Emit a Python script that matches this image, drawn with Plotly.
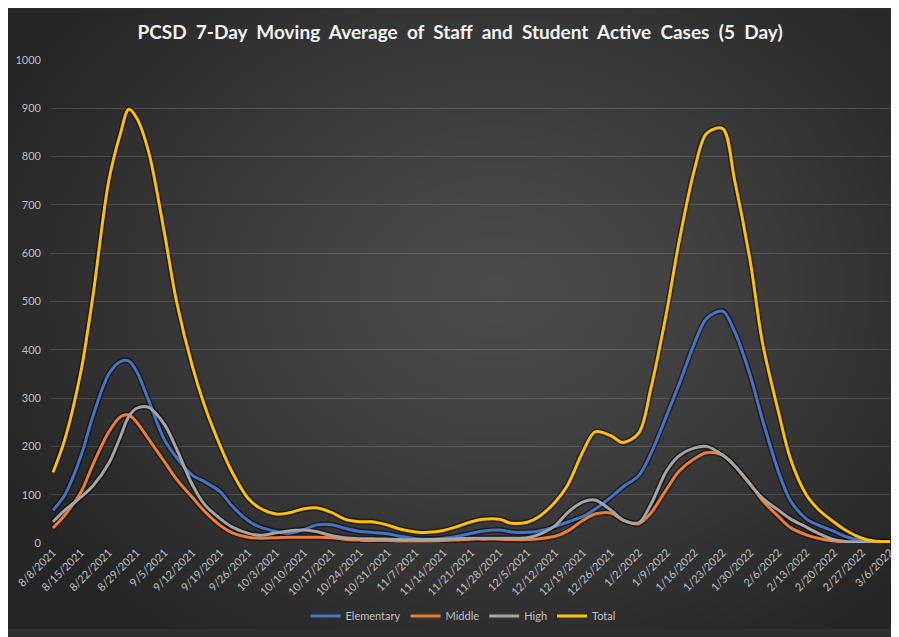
import base64
import struct
import zlib
import numpy as np
import plotly.graph_objects as go

# ---------------- data ----------------
dates = [
    "2021-08-08", "2021-08-11", "2021-08-15", "2021-08-18", "2021-08-22", "2021-08-25", "2021-08-27",
    "2021-08-29", "2021-09-01", "2021-09-05", "2021-09-08", "2021-09-12", "2021-09-15", "2021-09-19",
    "2021-09-22", "2021-09-26", "2021-09-29", "2021-10-03", "2021-10-06", "2021-10-10", "2021-10-13",
    "2021-10-17", "2021-10-20", "2021-10-24", "2021-10-27", "2021-10-31", "2021-11-03", "2021-11-07",
    "2021-11-10", "2021-11-14", "2021-11-17", "2021-11-21", "2021-11-24", "2021-11-28", "2021-12-01",
    "2021-12-05", "2021-12-08", "2021-12-12", "2021-12-15", "2021-12-19", "2021-12-22", "2021-12-26",
    "2021-12-29", "2022-01-02", "2022-01-05", "2022-01-09", "2022-01-12", "2022-01-16", "2022-01-19",
    "2022-01-23", "2022-01-26", "2022-01-30", "2022-02-02", "2022-02-06", "2022-02-09", "2022-02-13",
    "2022-02-16", "2022-02-20", "2022-02-23", "2022-02-27", "2022-03-02", "2022-03-06",
]

elementary = [68, 100, 180, 262, 350, 376, 377, 355, 295, 213, 177, 140, 127, 106, 76, 46, 33, 24, 20, 28,
              37, 38, 31, 24, 22, 19, 14, 9, 8, 10, 13, 20, 25, 27, 23, 22, 25, 34, 43, 55,
              70, 95, 116, 140, 185, 265, 327, 415, 465, 480, 438, 345, 255, 148, 88, 50, 37, 24, 13, 5,
              3, 2]
middle = [31, 58, 105, 162, 230, 262, 265, 250, 215, 168, 132, 94, 66, 36, 21, 12, 10, 11, 12, 12,
          12, 11, 8, 6, 5, 5, 4, 4, 4, 5, 6, 8, 8, 8, 7, 7, 9, 14, 24, 47,
          60, 62, 47, 40, 62, 112, 148, 175, 187, 182, 160, 122, 88, 55, 32, 17, 10, 4, 2, 1,
          1, 1]
high = [44, 68, 95, 118, 165, 222, 262, 279, 281, 245, 195, 120, 80, 50, 33, 20, 16, 21, 25, 27,
        24, 15, 11, 9, 9, 8, 7, 7, 7, 8, 9, 10, 10, 10, 10, 11, 18, 36, 62, 85,
        89, 68, 48, 42, 80, 150, 180, 197, 200, 182, 160, 120, 93, 68, 50, 33, 20, 7, 3, 2,
        2, 2]
total = [146, 215, 355, 510, 750, 850, 898, 880, 810, 640, 500, 365, 285, 200, 146, 92, 72, 60, 62, 71,
         73, 63, 50, 44, 44, 37, 29, 23, 22, 26, 33, 44, 49, 49, 41, 43, 55, 85, 118, 190,
         230, 222, 208, 228, 320, 480, 620, 775, 848, 858, 752, 580, 415, 272, 175, 100, 70, 43, 26, 10,
         4, 3]

tick_dates = [
    "2021-08-08", "2021-08-15", "2021-08-22", "2021-08-29", "2021-09-05", "2021-09-12", "2021-09-19",
    "2021-09-26", "2021-10-03", "2021-10-10", "2021-10-17", "2021-10-24", "2021-10-31", "2021-11-07",
    "2021-11-14", "2021-11-21", "2021-11-28", "2021-12-05", "2021-12-12", "2021-12-19", "2021-12-26",
    "2022-01-02", "2022-01-09", "2022-01-16", "2022-01-23", "2022-01-30", "2022-02-06", "2022-02-13",
    "2022-02-20", "2022-02-27", "2022-03-06",
]
tick_labels = [
    "8/8/2021", "8/15/2021", "8/22/2021", "8/29/2021", "9/5/2021", "9/12/2021", "9/19/2021",
    "9/26/2021", "10/3/2021", "10/10/2021", "10/17/2021", "10/24/2021", "10/31/2021", "11/7/2021",
    "11/14/2021", "11/21/2021", "11/28/2021", "12/5/2021", "12/12/2021", "12/19/2021", "12/26/2021",
    "1/2/2022", "1/9/2022", "1/16/2022", "1/23/2022", "1/30/2022", "2/6/2022", "2/13/2022",
    "2/20/2022", "2/27/2022", "3/6/2022",
]
y_ticks = [0, 100, 200, 300, 400, 500, 600, 700, 800, 900, 1000]

series_names = ["Elementary", "Middle", "High", "Total"]
series_values = [elementary, middle, high, total]
series_colors = ["#4472C4", "#ED7D31", "#A5A5A5", "#FFC000"]

title_text = "PCSD 7-Day Moving Average of Staff and Student Active Cases (5 Day)"

# ---------------- geometry (figure pixels; page adds an 8px body margin) ----------------
OFF = 8
FW, FH = 899 - OFF, 637 - OFF
PL, PR, PT, PB = 50 - OFF, 892 - OFF, 60 - OFF, 550 - OFF
pw, ph = PR - PL, PB - PT


def make_png(arr):
    h, w, _ = arr.shape
    raw = b"".join(b"\x00" + arr[i].tobytes() for i in range(h))

    def chunk(tag, data):
        c = struct.pack(">I", len(data)) + tag + data
        return c + struct.pack(">I", zlib.crc32(tag + data) & 0xFFFFFFFF)

    return (b"\x89PNG\r\n\x1a\n"
            + chunk(b"IHDR", struct.pack(">IIBBBBB", w, h, 8, 2, 0, 0, 0))
            + chunk(b"IDAT", zlib.compress(raw, 9))
            + chunk(b"IEND", b""))


# radial gradient background
gw, gh = 223, 157
yy, xx = np.mgrid[0:gh, 0:gw]
u = xx / (gw - 1)
v = yy / (gh - 1)
r = np.sqrt(((u - 0.55) / 0.62) ** 2 + ((v - 0.45) / 0.70) ** 2)
r = np.clip(r, 0, 1)
c_center, c_edge = 74.0, 37.0
val = c_center + (c_edge - c_center) * r ** 1.3
img = np.repeat(val[:, :, None], 3, axis=2).round().astype(np.uint8)
uri = "data:image/png;base64," + base64.b64encode(make_png(img)).decode()

fig = go.Figure()

# subtle shadows under lines
for vals in series_values:
    fig.add_trace(go.Scatter(
        x=dates, y=vals, mode="lines", showlegend=False, hoverinfo="skip",
        line=dict(color="rgba(0,0,0,0.45)", width=6, shape="spline", smoothing=0.9),
    ))

for name, vals, col in zip(series_names, series_values, series_colors):
    fig.add_trace(go.Scatter(
        x=dates, y=vals, mode="lines", name=name,
        line=dict(color=col, width=3, shape="spline", smoothing=0.9),
    ))

spaced_title = title_text.replace(" ", "\u00a0 ")

fig.update_layout(
    width=FW, height=FH, autosize=False,
    margin=dict(l=PL, r=FW - PR, t=PT, b=FH - PB, pad=0),
    paper_bgcolor="#2f2f2f",
    plot_bgcolor="rgba(0,0,0,0)",
    font=dict(family="Lato, Open Sans, sans-serif", color="#bfbfbf", size=11),
    title=dict(
        text="<b>" + spaced_title + "</b>",
        x=(460 - OFF) / FW, xref="container", xanchor="center",
        y=1 - (32 - OFF) / FH, yref="container", yanchor="middle",
        font=dict(family="Lato, Open Sans, sans-serif", size=19, color="#f2f2f2"),
    ),
    images=[dict(
        source=uri, xref="paper", yref="paper",
        x=(0 - PL) / pw, y=(PB - 0) / ph,
        sizex=FW / pw, sizey=FH / ph,
        sizing="stretch", xanchor="left", yanchor="top", layer="below",
    )],
    xaxis=dict(
        type="date",
        range=["2021-08-07 06:00", "2022-03-06 12:00"],
        tickmode="array", tickvals=tick_dates, ticktext=tick_labels,
        tickangle=-45, showgrid=False, zeroline=False, showline=False, ticks="",
        tickfont=dict(size=11, color="#bfbfbf"),
        ticklabeloverflow="allow",
        automargin=False,
    ),
    yaxis=dict(
        range=[0, 1000], tickmode="array", tickvals=y_ticks,
        showgrid=True, gridcolor="rgba(255,255,255,0.13)", gridwidth=1,
        zeroline=False, showline=False, ticks="",
        tickfont=dict(size=11, color="#bfbfbf"),
        ticklabelstandoff=8,
        automargin=False,
    ),
    legend=dict(
        orientation="h", x=(463 - 50) / pw, xanchor="center",
        y=(550 - 624) / ph, yanchor="middle",
        bgcolor="rgba(0,0,0,0)", font=dict(size=11, color="#bfbfbf"),
        itemwidth=30, traceorder="normal",
    ),
    showlegend=True,
)

fig.write_html("out.html")
